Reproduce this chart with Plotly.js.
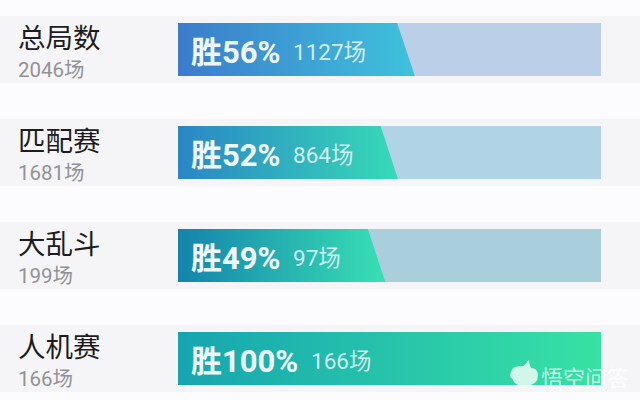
<!DOCTYPE html>
<html><head><meta charset="utf-8">
<script src="https://cdn.plot.ly/plotly-3.0.1.min.js"></script>
<style>html,body{margin:0;padding:0;background:#fcfcfe}#c{width:640px;height:400px}</style></head>
<body><div id="c"></div>
<script>
const categories = ['总局数','匹配赛','大乱斗','人机赛'];
const totals = ['2046场','1681场','199场','166场'];
const winPct = [56,52,49,100];
const wins = ['1127场','864场','97场','166场'];
const slant = [4.2,4.1,4.1,0];
const trackColors = ['#bccfe9','#b0d3e6','#a9cfdd','#34dca6'];
const gradStart = ['#3b7ccb','#2a86c6','#1483ac','#16a5b0'];
const gradEnd = ['#3fc2dc','#37dab6','#38e0b4','#37e2a4'];

const PX = 4.23, X0 = 178, Y0 = 49.5, PITCH = 103;
const barH = 26.5/PITCH, rowH = 33.5/PITCH;
const xr = [-X0/PX, (640-X0)/PX];
const yr = [(400-Y0)/PITCH, -Y0/PITCH];
const rows = categories.map((_,i)=>i);

const traces = [{
  type:'bar', orientation:'h', y:rows, x:rows.map(()=>100), base:0, width:2*barH,
  marker:{color:trackColors,line:{width:0}}, hoverinfo:'skip', showlegend:false
}];
rows.forEach(i=>{
  traces.push({
    type:'scatter', mode:'lines', showlegend:false, hoverinfo:'skip',
    x:[0,winPct[i],winPct[i]-slant[i],0,0],
    y:[i+barH,i+barH,i-barH,i-barH,i+barH],
    line:{width:0}, fill:'toself',
    fillgradient:{type:'horizontal',colorscale:[[0,gradStart[i]],[1,gradEnd[i]]]}
  });
});

const SANS = 'Roboto, "Noto Sans CJK SC", sans-serif';
const annotations = [];
rows.forEach(i=>{
  annotations.push({xref:'paper',yref:'y',x:16/640,y:i-0.135,xanchor:'left',yanchor:'middle',showarrow:false,
    text:categories[i],font:{family:'"Noto Sans CJK SC"',size:27.5,color:'#1c1c1e'}});
  annotations.push({xref:'paper',yref:'y',x:16/640,y:i+0.2,xanchor:'left',yanchor:'middle',showarrow:false,
    text:totals[i],font:{family:SANS,size:20.5,color:'#929296'}});
  annotations.push({xref:'x',yref:'y',x:2.5,y:i+0.03,xanchor:'left',yanchor:'middle',showarrow:false,
    text:'<b>胜'+winPct[i]+'%</b>',font:{family:SANS,size:31,color:'#eef8fc'}});
  annotations.push({xref:'x',yref:'y',x:(i===3?31:26.7),y:i+0.02,xanchor:'left',yanchor:'middle',showarrow:false,
    text:wins[i],font:{family:SANS,size:22.5,color:'rgba(232,246,250,0.88)'}});
});
annotations.push({xref:'paper',yref:'paper',x:539/640,y:1-376/400,xanchor:'left',yanchor:'middle',showarrow:false,
  text:'悟空问答',font:{family:'"Noto Sans CJK SC"',size:22,color:'rgba(255,255,255,0.72)'}});

const shapes = rows.map(i=>({type:'rect',layer:'below',xref:'paper',yref:'y',x0:0,x1:1,y0:i-rowH,y1:i+rowH,
  fillcolor:'#f5f5f7',line:{width:0}}));
// watermark logo
shapes.push({type:'path',layer:'above',xref:'paper',yref:'paper',
  path:'M 0.8 0.055 C 0.795 0.055 0.798 0.075 0.802 0.08 C 0.808 0.085 0.812 0.085 0.818 0.085 C 0.822 0.09 0.825 0.1 0.826 0.1 C 0.828 0.095 0.826 0.09 0.83 0.08 C 0.838 0.08 0.842 0.07 0.84 0.055 C 0.84 0.04 0.825 0.035 0.82 0.035 C 0.81 0.035 0.803 0.04 0.8 0.055 Z',
  fillcolor:'rgba(255,255,255,0.78)',line:{width:0}});

Plotly.newPlot('c',traces,{
  width:640,height:400,margin:{l:0,r:0,t:0,b:0},
  paper_bgcolor:'#fcfcfe',plot_bgcolor:'rgba(0,0,0,0)',
  xaxis:{range:xr,visible:false,fixedrange:true},
  yaxis:{range:yr,visible:false,fixedrange:true},
  shapes:shapes,annotations:annotations,showlegend:false,bargap:0
},{displayModeBar:false,staticPlot:true});
</script></body></html>
